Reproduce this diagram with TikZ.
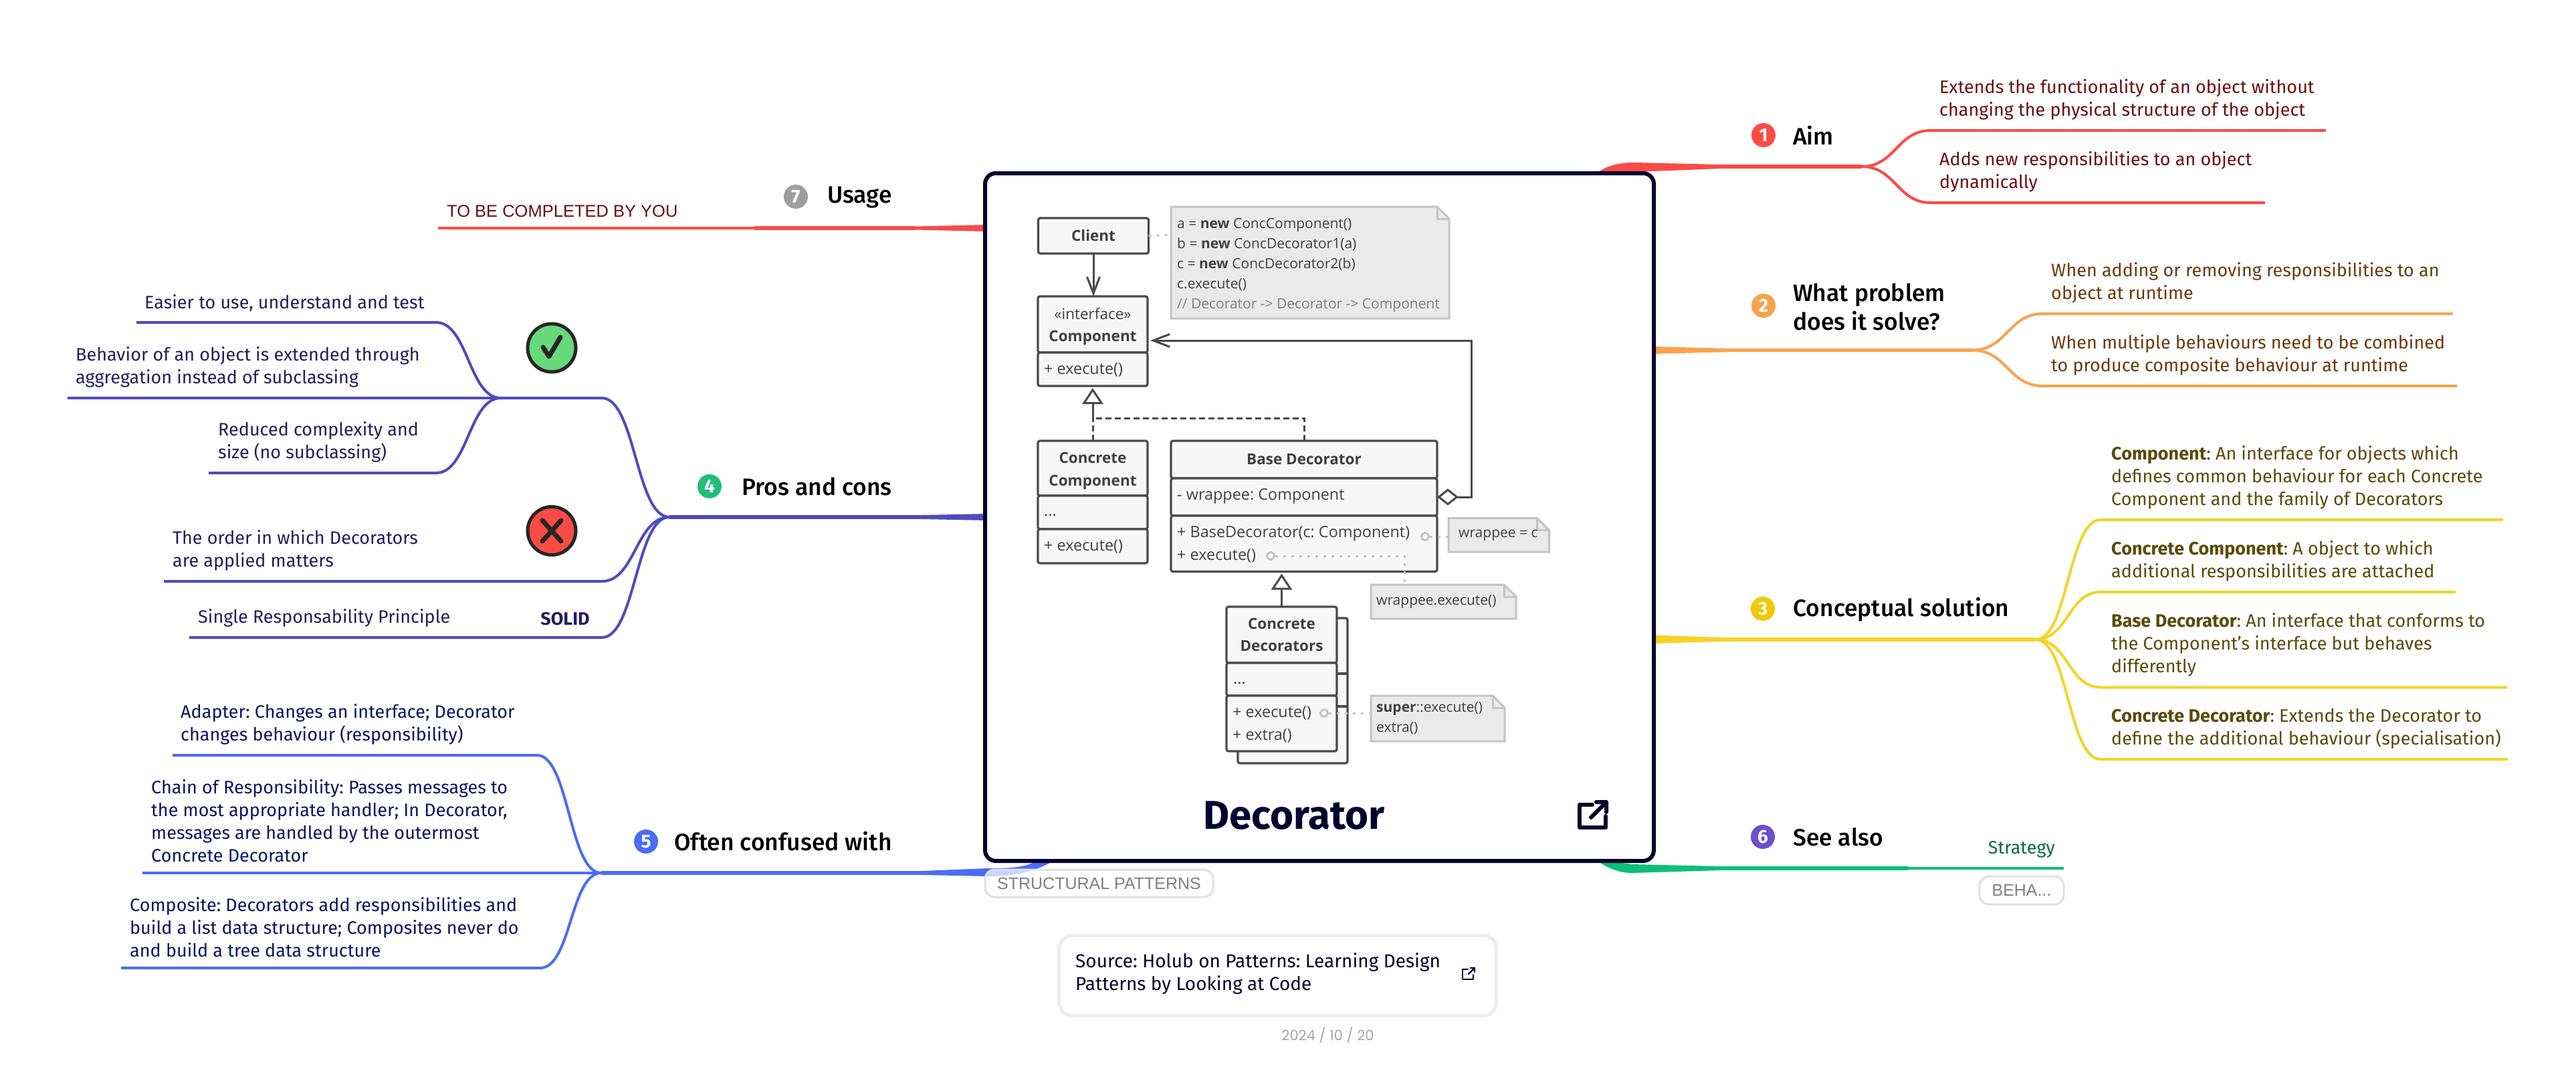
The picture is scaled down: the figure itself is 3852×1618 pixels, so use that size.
\documentclass[tikz,border=0pt]{standalone}
\usepackage{fontspec}
\setmainfont{Fira Sans}
\newfontfamily\umlf{Open Sans}
\newfontfamily\headf{Fira Sans Medium}
\newfontfamily\datef{Poppins}
\newfontfamily\capsf{Liberation Sans}
\AtBeginDocument{\frenchspacing}
\usetikzlibrary{arrows.meta}
\definecolor{navy}{HTML}{03032F}
\definecolor{cred}{HTML}{FB4B45}\definecolor{corange}{HTML}{F9A24E}\definecolor{cyellow}{HTML}{F5D327}
\definecolor{cindigo}{HTML}{4F4BBE}\definecolor{cblue}{HTML}{4A6CF7}\definecolor{cgreen}{HTML}{0BBF7A}
\definecolor{tred}{HTML}{6B0F12}\definecolor{torange}{HTML}{6B3A0A}\definecolor{tyellow}{HTML}{5C4A08}
\definecolor{tindigo}{HTML}{221F5E}\definecolor{tblue}{HTML}{0D1460}\definecolor{tgreen}{HTML}{0B6B47}
\definecolor{umlline}{HTML}{4A4A4A}\definecolor{umltext}{HTML}{404040}\definecolor{notefill}{HTML}{EAEAEA}\definecolor{noteline}{HTML}{C4C4C4}
\definecolor{cdot3}{HTML}{F2C800}\definecolor{cdot4}{HTML}{1FBF7A}\definecolor{cdot6}{HTML}{6A4FCF}\definecolor{cok}{HTML}{66D97A}
\tikzset{
  leaf/.style={anchor=south west,inner sep=0pt,align=left,font=\fontsize{27}{34}\selectfont},
  topic/.style={anchor=west,inner sep=0pt,align=left,font=\headf\fontsize{35.5}{43}\selectfont,text=black},
  numdot/.style={circle,minimum size=36pt,inner sep=0pt,text=white,font=\bfseries\fontsize{28}{28}\selectfont},
  stem/.style={line width=5.5pt},
  rulel/.style={line width=4pt,line cap=butt},
  umlbox/.style={draw=umlline,fill=umlfill,line width=3.2pt,rounded corners=3pt,anchor=north west,inner sep=0pt,outer sep=0pt},
  umlt/.style={inner sep=0pt,text=umltext,align=center,font=\umlf\bfseries\fontsize{22.5}{33.5}\selectfont},
  umll/.style={inner sep=0pt,anchor=west,text=umltext,align=left,font=\umlf\fontsize{23.4}{33}\selectfont},
  notet/.style={inner sep=0pt,anchor=west,text=umltext,align=left,font=\umlf\fontsize{21}{30}\selectfont},
  notep/.style={draw=noteline,fill=notefill,line width=3pt,line join=miter},
  dots/.style={draw=noteline,line width=3pt,dash pattern=on 4pt off 8pt},
  endc/.style={circle,draw=noteline,fill=white,line width=3pt,minimum size=11pt,inner sep=0pt},
  assoc/.style={draw=umlline,line width=3pt},
  tagbox/.style={draw=black!12,fill=white,fill opacity=.7,text opacity=1,text=black!50,line width=3pt,rounded corners=14pt,inner sep=0pt,font=\capsf\fontsize{25}{25}\selectfont},
}
\definecolor{umlfill}{HTML}{F7F7F7}
% \branchto{colour}{junction}{name}{x}{y}{xend}{tangent}
\newcommand{\branchto}[7]{%
  \coordinate (#3) at (#4,#5);\coordinate (#3e) at (#6,#5);
  \draw[rulel,#1] (#2) .. controls +(#7,0) and +(-#7,0) .. (#3) -- (#3e);}
\newcommand{\notebox}[4]{%
  \draw[notep] (#1,#2) -- (#3-18,#2) -- (#3,#2+18) -- (#3,#4) -- (#1,#4) -- cycle;
  \draw[draw=noteline,line width=3pt] (#3-18,#2) -- (#3-18,#2+18) -- (#3,#2+18);}
\begin{document}
\begin{tikzpicture}[x=1pt,y=-1pt]
\useasboundingbox (0,0) rectangle (3852,1618);
\fill[white] (0,0) rectangle (3852,1618);
% ---------- junctions
\coordinate (jaim) at (2784,249);
\coordinate (jprob) at (2949,523.5);
\coordinate (jconc) at (3044,956);
\coordinate (jsee) at (2854,1298);
\coordinate (jpros) at (1001,773);
\coordinate (jprosa) at (749,595);
\coordinate (jconf) at (899,1305);
\coordinate (jusage) at (1128,341);
% ---------- tapered stems
\fill[cred] (2579,246.2) -- (2445,243) .. controls (2420,243) and (2400,248) .. (2385,261) -- (2440,261) -- (2445,257) -- (2579,251.8) -- cycle;
\fill[corange] (2579,520.8) -- (2472,518) -- (2472,529) -- (2579,526.2) -- cycle;
\fill[cyellow] (2582,953.2) -- (2472,949.5) -- (2472,962) -- (2582,958.8) -- cycle;
\fill[cgreen] (2577,1295.2) -- (2441,1292) -- (2385,1285) .. controls (2405,1298) and (2420,1305) .. (2441,1305) -- (2577,1300.8) -- cycle;
\fill[cred] (1369,338.5) -- (1478,336) -- (1478,346) -- (1369,343.5) -- cycle;
\fill[cindigo] (1369,770.2) -- (1478,768) -- (1478,778) -- (1369,775.8) -- cycle;
\fill[cblue] (1373,1302.2) -- (1478,1298) .. controls (1510,1298) and (1540,1298) .. (1560,1280) -- (1585,1280) .. controls (1560,1300) and (1520,1310) .. (1478,1310) -- (1373,1307.8) -- cycle;
% ---------- stems
\draw[stem,cred] (2579,249) -- (jaim);
\draw[stem,corange] (2579,523.5) -- (jprob);
\draw[stem,cyellow] (2582,956) -- (jconc);
\draw[stem,cgreen] (2577,1298) -- (jsee);
\draw[rulel,cgreen] (jsee) -- (3086,1298);
\draw[stem,cred] (1369,341) -- (jusage);
\draw[rulel,cred] (jusage) -- (655,341);
\draw[stem,cindigo] (1369,773) -- (jpros);
\draw[stem,cblue] (1373,1305) -- (jconf);
% ---------- branches right
\branchto{cred}{jaim}{ba}{2887}{195}{3478}{50}
\branchto{cred}{jaim}{bb}{2887}{303}{3387}{50}
\branchto{corange}{jprob}{bc}{3055}{469}{3668}{52}
\branchto{corange}{jprob}{bd}{3055}{577}{3674}{52}
\branchto{cyellow}{jconc}{be}{3141}{777}{3743}{48}
\branchto{cyellow}{jconc}{bf}{3141}{885}{3672}{48}
\branchto{cyellow}{jconc}{bg}{3141}{1027.5}{3749}{48}
\branchto{cyellow}{jconc}{bh}{3141}{1135}{3750}{48}
% ---------- branches left
\branchto{cindigo}{jpros}{bi}{900}{595}{749}{-50}
\draw[rulel,cindigo] (jprosa) -- (101,595);
\branchto{cindigo}{jprosa}{bj}{652}{482}{204}{-48}
\branchto{cindigo}{jprosa}{bk}{652}{707}{312}{-48}
\branchto{cindigo}{jpros}{bl}{900}{869}{245}{-50}
\branchto{cindigo}{jpros}{bm}{900}{953}{283}{-50}
\branchto{cblue}{jconf}{bn}{803}{1129}{258}{-48}
\draw[rulel,cblue] (jconf) -- (213,1305);
\branchto{cblue}{jconf}{bo}{808}{1447}{181}{-46}
% ---------- main card
\node[draw=navy,fill=white,line width=6pt,rounded corners=16pt,minimum width=1000pt,minimum height=1028pt,anchor=north west,inner sep=0pt,outer sep=0pt] (card) at (1473,259) {};
% ---------- topics
\node[numdot,fill=cred] (n1) at (2637,202) {1};
\node[topic] (t1) at (2681,202) {Aim};
\node[numdot,fill=corange] (n2) at (2637,457) {2};
\node[topic] (t2) at (2681,459) {What problem\\does it solve?};
\node[numdot,fill=cdot3] (n3) at (2636,910) {3};
\node[topic] (t3) at (2681,911) {Conceptual solution};
\node[numdot,fill=cdot4] (n4) at (1061,727) {4};
\node[topic,anchor=east] (t4) at (1334,727) {Pros and cons};
\node[numdot,fill=cblue] (n5) at (966,1258) {5};
\node[topic,anchor=east] (t5) at (1334,1258) {Often confused with};
\node[numdot,fill=cdot6] (n6) at (2636,1251) {6};
\node[topic] (t6) at (2681,1251) {See also};
\node[numdot,fill=black!38] (n7) at (1190,294) {7};
\node[topic,anchor=east] (t7) at (1334,295) {Usage};
% ---------- leaves right
\node[leaf,text=tred] (l1) at (2900,179) {Extends the functionality of an object without\\changing the physical structure of the object};
\node[leaf,text=tred] (l2) at (2900,287) {Adds new responsibilities to an object\\dynamically};
\node[leaf,text=torange] (l3) at (3067,453) {When adding or removing responsibilities to an\\object at runtime};
\node[leaf,text=torange] (l4) at (3067,561) {When multiple behaviours need to be combined\\to produce composite behaviour at runtime};
\node[leaf,text=tyellow] (l5) at (3157,761) {\textbf{Component}: An interface for objects which\\defines common behaviour for each Concrete\\Component and the family of Decorators};
\node[leaf,text=tyellow] (l6) at (3157,869) {\textbf{Concrete Component}: A object to which\\additional responsibilities are attached};
\node[leaf,text=tyellow] (l7) at (3157,1011.5) {\textbf{Base Decorator}: An interface that conforms to\\the Component's interface but behaves\\differently};
\node[leaf,text=tyellow] (l8) at (3157,1119) {\textbf{Concrete Decorator}: Extends the Decorator to\\define the additional behaviour (specialisation)};
\node[leaf,text=tgreen,anchor=south east] (l9) at (3073,1282) {Strategy};
% ---------- leaves left
\node[leaf,text=tred,font=\capsf\fontsize{25.5}{34}\selectfont] (l10) at (668,325) {TO BE COMPLETED BY YOU};
\node[leaf,text=tindigo] (l11) at (216,466) {Easier to use, understand and test};
\node[leaf,text=tindigo] (l12) at (113,579) {Behavior of an object is extended through\\aggregation instead of subclassing};
\node[leaf,text=tindigo] (l13) at (326,691) {Reduced complexity and\\size (no subclassing)};
\node[leaf,text=tindigo] (l14) at (258,853) {The order in which Decorators\\are applied matters};
\node[leaf,text=tindigo] (l15) at (296,937) {Single Responsability Principle};
\node[leaf,text=tindigo,anchor=south east] (l16) at (882,935) {\textbf{SOLID}};
\node[leaf,text=tblue] (l17) at (270,1113) {Adapter: Changes an interface; Decorator\\changes behaviour (responsibility)};
\node[leaf,text=tblue] (l18) at (226,1289) {Chain of Responsibility: Passes messages to\\the most appropriate handler; In Decorator,\\messages are handled by the outermost\\Concrete Decorator};
\node[leaf,text=tblue] (l19) at (194,1431) {Composite: Decorators add responsibilities and\\build a list data structure; Composites never do\\and build a tree data structure};
% ---------- pro / con badges
\node[circle,draw=black!85,fill=cok,line width=5pt,minimum size=72pt,inner sep=0pt] (ok) at (825,520) {};
\draw[black!85,line width=7pt,line cap=round,line join=round] (812,519) -- (821,533) -- (838,504);
\node[circle,draw=black!85,fill=cred,line width=5pt,minimum size=72pt,inner sep=0pt] (ko) at (825,793.5) {};
\draw[black!85,line width=7pt,line cap=round] (811,778) -- (839,809) (839,778) -- (811,809);
% ---------- tags
\node[tagbox,minimum width=341pt,minimum height=41pt] (tagl) at (1643.5,1320.5) {STRUCTURAL PATTERNS};
\node[tagbox,fill opacity=1,minimum width=126pt,minimum height=42pt] (tagr) at (3023,1331) {BEHA...};
% ---------- UML boxes
\node[umlbox,minimum width=165pt,minimum height=53pt] (client) at (1552.5,326) {};
\node[umlt] (clientt) at (client.center) {Client};
\node[umlbox,minimum width=164pt,minimum height=84pt] (comp) at (1552,443) {};
\node[umlbox,minimum width=164pt,minimum height=50pt] (compb) at (1552,527) {};
\node[umlt] (compt) at (1634,488) {{\normalfont\umlf «interface»}\\Component};
\node[umll] (compm) at (1561,553) {+ execute()};
\node[umlbox,minimum width=164pt,minimum height=82pt] (cc) at (1552,659) {};
\node[umlbox,minimum width=164pt,minimum height=50pt] (ccb) at (1552,741) {};
\node[umlbox,minimum width=164pt,minimum height=51pt] (ccc) at (1552,791) {};
\node[umlt] (cct) at (1634,704) {Concrete\\Component};
\node[umll] (ccf) at (1561,770) {...};
\node[umll] (ccm) at (1561,817) {+ execute()};
\node[umlbox,minimum width=398pt,minimum height=56pt] (bd) at (1751,659) {};
\node[umlbox,minimum width=398pt,minimum height=56pt] (bdb) at (1751,715) {};
\node[umlbox,minimum width=398pt,minimum height=83.5pt] (bdc) at (1751,771) {};
\node[umlt] (bdt) at (bd.center) {Base Decorator};
\node[umll] (bdf) at (1760,742) {- wrappee: Component};
\node[umll] (bdm) at (1760,798) {+ BaseDecorator(c: Component)};
\node[umll] (bdn) at (1760,831) {+ execute()};
% concrete decorators
\node[umlbox,minimum width=164pt,minimum height=217pt] (cdback) at (1851,924) {};
\draw[umlline,line width=3.2pt] (1999,1007) -- (2015,1007) (1999,1056) -- (2015,1056);
\node[umlbox,minimum width=165pt,minimum height=84pt] (cd) at (1834,907) {};
\node[umlbox,minimum width=165pt,minimum height=49pt] (cdb) at (1834,991) {};
\node[umlbox,minimum width=165pt,minimum height=83pt] (cdc) at (1834,1040) {};
\node[umlt] (cdt) at (cd.center) {Concrete\\Decorators};
\node[umll] (cdf) at (1844,1021) {...};
\node[umll] (cdm) at (1843,1066) {+ execute()};
\node[umll] (cdn) at (1843,1100) {+ extra()};
% ---------- notes
\notebox{1751}{309}{2167}{476}
\node[notet] (n1t) at (1760,396) {a = \textbf{new} ConcComponent()\\b = \textbf{new} ConcDecorator1(a)\\c = \textbf{new} ConcDecorator2(b)\\c.execute()\\\textcolor{black!50}{// Decorator -> Decorator -> Component}};
\notebox{2166}{774.5}{2316.5}{825}
\node[notet] (n2t) at (2181,800) {wrappee = c};
\notebox{2050}{874}{2267}{925}
\node[notet] (n3t) at (2058,900) {wrappee.execute()};
\notebox{2050}{1040}{2250}{1108}
\node[notet] (n4t) at (2058,1074) {\textbf{super}::execute()\\extra()};
% ---------- UML connectors
\coordinate (note1w) at (1751,351);
\coordinate (note2w) at (2166,802);
\coordinate (note3n) at (2100,871);
\coordinate (note4w) at (2050,1066);
\coordinate (el3) at (2100,831);
\node[endc] (e1) at (2131,802) {};
\node[endc] (e2) at (1900,831) {};
\node[endc] (e3) at (1980,1066) {};
\draw[dots] (client.east) -- (note1w);
\draw[dots] (e1) -- (note2w);
\draw[dots] (e2) -- (el3) -- (note3n);
\draw[dots] (e3) -- (note4w);
\draw[assoc,-{Straight Barb[length=25pt,width=19pt]}] (client.south) -- (client.south |- comp.north);
\coordinate (elbow) at (1634,625);
\draw[assoc,dash pattern=on 9pt off 5pt] (cc.north -| elbow) -- (elbow);
\draw[assoc,dash pattern=on 9pt off 5pt] (bd.north) -- (elbow -| bd.north) -- (elbow);
\draw[assoc,-{Triangle[open,length=24pt,width=31pt,fill=white]},shorten >=3pt] (elbow) -- (compb.south -| elbow);
\draw[assoc,-{Triangle[open,length=24pt,width=31pt,fill=white]},shorten >=3pt] (cd.north) -- (bdc.south -| cd.north);
\coordinate (agg) at (2200,509);
\coordinate (comparrow) at (1720,509);
\draw[assoc,{Diamond[open,length=32pt,width=25pt,fill=white]}-{Straight Barb[length=25pt,width=19pt]}] (bdb.east) -- (bdb.east -| agg) -- (agg) -- (comparrow);
% ---------- card title
\node[inner sep=0pt,text=navy,font=\bfseries\fontsize{60}{60}\selectfont] (title) at (1935,1219) {Decorator};
\draw[navy,line width=6pt,line join=round,line cap=round] (2381,1203) -- (2362,1203) -- (2362,1237) -- (2401,1237) -- (2401,1220);
\draw[navy,line width=6pt,line join=round,line cap=round] (2379,1222) -- (2402,1199) (2387,1199) -- (2402,1199) -- (2402,1214);
% ---------- source card
\node[draw=black!7,fill=white,line width=5pt,rounded corners=20pt,minimum width=654pt,minimum height=120pt,anchor=north west,inner sep=0pt] (src) at (1581,1396) {};
\node[anchor=west,inner sep=0pt,align=left,text=navy,font=\fontsize{28}{34}\selectfont] (srct) at (1608,1455.5) {Source: Holub on Patterns: Learning Design\\Patterns by Looking at Code};
\draw[navy,line width=2.2pt,line join=round,line cap=round] (2195,1449) -- (2187,1449) -- (2187,1464) -- (2203,1464) -- (2203,1457);
\draw[navy,line width=2.2pt,line join=round,line cap=round] (2196,1456) -- (2205,1447) (2199,1447) -- (2205,1447) -- (2205,1453);
\node[inner sep=0pt,text=black!35,font=\datef\fontsize{21}{21}\selectfont] (date) at (1985.5,1547) {2024 / 10 / 20};
\end{tikzpicture}
\end{document}
